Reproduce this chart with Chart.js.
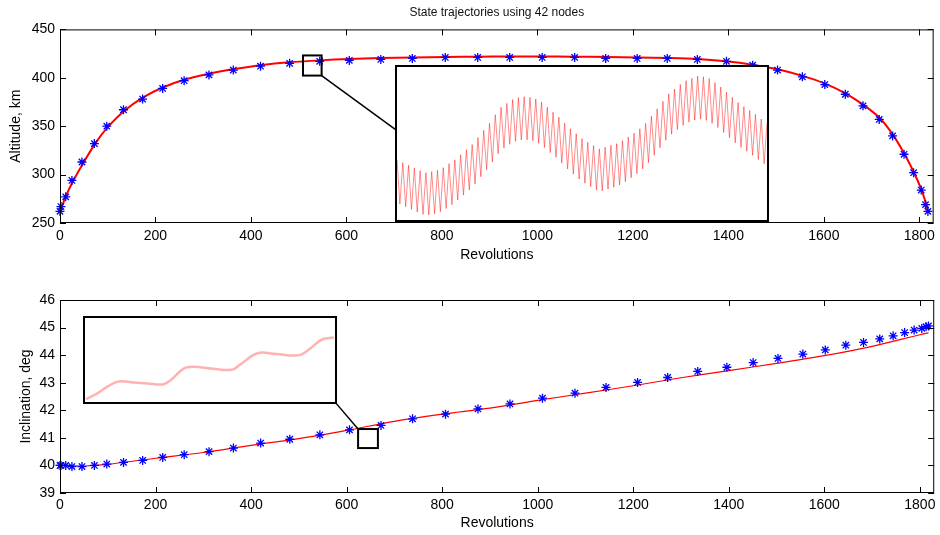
<!DOCTYPE html>
<html>
<head>
<meta charset="utf-8">
<script src="https://cdn.jsdelivr.net/npm/chart.js@4.4.1/dist/chart.umd.min.js"></script>
<style>
    body { margin: 0; background: #fff; }
    #wrap { position: relative; width: 940px; height: 535px; }
    #altChart { position: absolute; left: 0; top: 0; }
    #incChart { position: absolute; left: 0; top: 270px; }
    .inset { position: absolute; box-sizing: border-box; border: 2px solid #000; background: #fff; }
    .inset canvas { display: block; }
</style>
</head>
<body>
<div id="wrap">
    <canvas id="altChart" width="940" height="270" style="width:940px;height:270px"></canvas>
    <canvas id="incChart" width="940" height="265" style="width:940px;height:265px"></canvas>
    <div class="inset" id="altInset"><canvas></canvas></div>
    <div class="inset" id="incInset"><canvas></canvas></div>
</div>
<script>

// node positions (revolutions) of the 42 collocation nodes
const nodeRevs = [0, 2, 12, 25, 46, 72, 98, 133, 173, 215, 260, 312, 363, 420, 481, 544, 606, 672, 738, 807,
    875, 942, 1010, 1078, 1143, 1209, 1272, 1335, 1396, 1451, 1503, 1555, 1602, 1645, 1682, 1716, 1744, 1768, 1788, 1804,
    1813, 1818];

const nodeAltitude = [262, 267, 277, 294, 313, 332, 350, 367, 378, 389, 397, 403, 408, 412, 415, 417, 418, 419, 420, 421,
    421, 421, 421, 421, 420, 420, 420, 419, 417, 413, 408, 401, 393, 383, 371, 357, 340, 321, 302, 284,
    269, 262];

const nodeInclination = [40.0, 40.0, 40.0, 39.96, 39.96, 40.0, 40.05, 40.11, 40.18, 40.29, 40.39, 40.5, 40.63, 40.81, 40.95, 41.11, 41.29, 41.45, 41.69, 41.86,
    42.05, 42.23, 42.44, 42.62, 42.83, 43.01, 43.19, 43.41, 43.56, 43.73, 43.88, 44.04, 44.19, 44.36, 44.46, 44.59, 44.7, 44.82, 44.91, 44.97,
    45.03, 45.06];

// propagated trajectories
const altLineRevs = [0, 10, 25, 50, 75, 100, 135, 175, 215, 260, 310, 365, 420, 480, 545, 605, 670, 740, 810, 875,
    940, 1010, 1075, 1145, 1210, 1275, 1335, 1395, 1450, 1505, 1555, 1600, 1645, 1683, 1718, 1745, 1768, 1788, 1804, 1814, 1818];
const altLine = [262, 275, 291, 313, 333, 349, 366, 380, 390, 398, 404, 409, 413, 416, 418, 419.5, 420.5, 421, 421.5, 421.8,
    422, 422, 421.8, 421.5, 421, 420.5, 419.5, 417, 413.5, 408.5, 402, 394.5, 384, 372, 358, 341, 322, 303, 285, 270, 262];

const incLineRevs = [0, 50, 100, 200, 300, 400, 500, 600, 700, 800, 900, 1000, 1100, 1200, 1300, 1400, 1500, 1600, 1700, 1800, 1818];
const incLine = [40.0, 39.98, 40.04, 40.26, 40.47, 40.73, 40.97, 41.27, 41.6, 41.86, 42.08, 42.36, 42.62, 42.89, 43.18, 43.44, 43.70, 43.98, 44.32, 44.74, 44.81];

// zoomed detail of altitude (relative units, 0-100 of inset height): crests and troughs
const altZoomCrests = [39.3, 37.5, 35.8, 34.0, 32.3, 30.9, 31.6, 32.5, 34.2, 36.8, 39.3, 42.6, 46.0, 49.3, 53.9, 58.6,
    63.2, 68.8, 73.7, 76.2, 78.7, 80.0, 80.6, 80.2, 79.1, 77.1, 73.7, 70.5, 67.2, 63.2, 59.6, 56.4,
    53.2, 50.8, 48.7, 46.5, 47.6, 48.8, 49.9, 51.8, 54.3, 56.8, 59.7, 63.1, 67.8, 72.7, 77.6, 82.5,
    85.6, 88.6, 91.1, 92.6, 94.1, 93.6, 92.5, 89.8, 86.9, 83.5, 80.1, 76.8, 74.1, 71.6, 69.0, 66.0, 63.5];
const altZoomTroughs = [10.4, 8.7, 6.9, 5.2, 3.6, 3.3, 4.1, 5.4, 7.5, 10.1, 13.0, 16.3, 19.7, 23.6, 28.3, 32.9,
    38.0, 43.3, 47.0, 49.5, 51.4, 52.3, 52.4, 51.7, 50.1, 47.4, 44.1, 40.9, 37.2, 33.4, 30.0, 26.8,
    24.0, 21.8, 19.6, 19.1, 20.2, 21.4, 22.9, 25.1, 27.6, 30.3, 33.4, 37.5, 42.3, 47.2, 52.1, 56.1,
    59.1, 61.9, 63.9, 65.4, 65.9, 65.1, 63.2, 60.4, 57.2, 53.8, 50.5, 47.5, 44.9, 42.3, 39.5, 36.8];

// zoomed detail of inclination (relative units)
const incZoomX = [0.4, 4.4, 9.1, 13.5, 19.4, 25, 31, 34.1, 39.3, 43.3, 51.2, 58.7, 61.9, 69, 76.6, 85.7, 89.7, 94.8, 99.6];
const incZoomY = [3.5, 9.3, 18.6, 24.4, 23.3, 22.1, 20.9, 25.6, 39.5, 41.9, 39.5, 38.4, 44.2, 58.1, 57.0, 55.8, 62.8, 74.4, 76.7];

// ticks
const revTicks = [0, 200, 400, 600, 800, 1000, 1200, 1400, 1600, 1800];
const altTicks = [250, 300, 350, 400, 450];
const incTicks = [39, 40, 41, 42, 43, 44, 45, 46];


Chart.defaults.font.family = '"Liberation Sans", Arial, sans-serif';
Chart.defaults.color = "#000";


function xy(xs, ys) {
    return xs.map((x, i) => ({ x: x, y: ys[i] }));
}


// MATLAB-like box with inward ticks on all sides
const framePlugin = {

    id: "frame",

    afterDatasetsDraw(chart) {

        const { ctx, chartArea: a, scales } = chart;

        ctx.save();
        ctx.strokeStyle = "#000";
        ctx.lineWidth = 1;
        ctx.strokeRect(a.left + 0.5, a.top + 0.5, a.width - 1, a.height - 1);

        ctx.beginPath();

        scales.x.ticks.forEach(t => {
            const px = Math.round(scales.x.getPixelForValue(t.value)) + 0.5;
            ctx.moveTo(px, a.bottom);
            ctx.lineTo(px, a.bottom - 6);
            ctx.moveTo(px, a.top);
            ctx.lineTo(px, a.top + 6);
        });

        scales.y.ticks.forEach(t => {
            const py = Math.round(scales.y.getPixelForValue(t.value)) + 0.5;
            ctx.moveTo(a.left, py);
            ctx.lineTo(a.left + 6, py);
            ctx.moveTo(a.right, py);
            ctx.lineTo(a.right - 6, py);
        });

        ctx.stroke();
        ctx.restore();

    }

};


// small zoom rectangle and the link to the inset
const zoomMarks = {

    id: "zoomMarks",

    afterDraw(chart, args, opts) {

        if (!opts.box) return;

        const x = chart.scales.x, y = chart.scales.y, ctx = chart.ctx;

        const l = x.getPixelForValue(opts.box[0]);
        const r = x.getPixelForValue(opts.box[1]);
        const b = y.getPixelForValue(opts.box[2]);
        const t = y.getPixelForValue(opts.box[3]);

        ctx.save();
        ctx.strokeStyle = "#000";
        ctx.lineWidth = 2;
        ctx.strokeRect(l, t, r - l, b - t);

        ctx.lineWidth = 1.5;
        ctx.beginPath();
        ctx.moveTo(x.getPixelForValue(opts.link[0]), y.getPixelForValue(opts.link[1]));
        ctx.lineTo(x.getPixelForValue(opts.link[2]), y.getPixelForValue(opts.link[3]));
        ctx.stroke();
        ctx.restore();

    }

};


function mainChart(canvas, cfg) {

    return new Chart(canvas, {

        type: "scatter",

        data: {
            datasets: [
                {
                    label: "trajectory",
                    data: xy(cfg.lineX, cfg.lineY),
                    showLine: true,
                    borderColor: "#ff0000",
                    borderWidth: cfg.lineWidth,
                    pointRadius: 0,
                    tension: 0.3,
                    order: 2
                },
                {
                    label: "nodes",
                    data: xy(nodeRevs, cfg.nodes),
                    pointStyle: "star",
                    pointRadius: 4.5,
                    borderColor: "#0000ff",
                    backgroundColor: "#0000ff",
                    borderWidth: 1.3,
                    clip: false,
                    order: 1
                }
            ]
        },

        options: {

            responsive: false,
            animation: false,

            layout: {
                padding: { left: 0, right: 5, top: cfg.padTop, bottom: 0 }
            },

            plugins: {
                legend: { display: false },
                tooltip: { enabled: false },
                title: {
                    display: !!cfg.title,
                    text: cfg.title,
                    fullSize: false,
                    font: { size: 12, weight: "normal" },
                    color: "#111",
                    padding: { top: 5, bottom: 10 }
                },
                zoomMarks: cfg.marks
            },

            scales: {

                x: {
                    type: "linear",
                    min: 0,
                    max: 1830,
                    afterBuildTicks: s => { s.ticks = revTicks.map(v => ({ value: v })); },
                    afterFit: s => { s.height = cfg.xHeight; },
                    grid: { display: false, drawTicks: false },
                    border: { display: false },
                    ticks: {
                        font: { size: 14 },
                        padding: cfg.xTickPad,
                        maxRotation: 0,
                        autoSkip: false,
                        callback: v => String(v)
                    },
                    title: {
                        display: true,
                        text: "Revolutions",
                        font: { size: 14 },
                        padding: { top: 0, bottom: cfg.xTitlePad }
                    }
                },

                y: {
                    type: "linear",
                    min: cfg.yTicks[0],
                    max: cfg.yTicks[cfg.yTicks.length - 1],
                    afterBuildTicks: s => { s.ticks = cfg.yTicks.map(v => ({ value: v })); },
                    afterFit: s => { s.width = 60; },
                    grid: { display: false, drawTicks: false },
                    border: { display: false },
                    ticks: { font: { size: 14 }, padding: 5, callback: v => String(v) },
                    title: {
                        display: true,
                        text: cfg.yTitle,
                        font: { size: 14 },
                        padding: { top: cfg.yTitlePad, bottom: 0 }
                    }
                }

            }

        },

        plugins: [framePlugin, zoomMarks]

    });

}


function insetChart(chart, canvasTop, frame, el, datasets, xMax) {

    const x = chart.scales.x, y = chart.scales.y;

    const l = Math.round(x.getPixelForValue(frame[0]));
    const r = Math.round(x.getPixelForValue(frame[1]));
    const t = Math.round(y.getPixelForValue(frame[3]));
    const b = Math.round(y.getPixelForValue(frame[2]));

    el.style.left = (l - 1) + "px";
    el.style.top = (canvasTop + t - 1) + "px";
    el.style.width = (r - l + 2) + "px";
    el.style.height = (b - t + 2) + "px";

    const canvas = el.querySelector("canvas");
    canvas.width = r - l - 2;
    canvas.height = b - t - 2;
    canvas.style.width = canvas.width + "px";
    canvas.style.height = canvas.height + "px";

    new Chart(canvas, {
        type: "scatter",
        data: { datasets },
        options: {
            responsive: false,
            animation: false,
            layout: { padding: 0 },
            plugins: { legend: { display: false }, tooltip: { enabled: false } },
            scales: {
                x: { type: "linear", display: false, min: 0, max: xMax },
                y: { type: "linear", display: false, min: 0, max: 100 }
            }
        }
    });

}


const altChart = mainChart(document.getElementById("altChart"), {
    lineX: altLineRevs,
    lineY: altLine,
    lineWidth: 2,
    nodes: nodeAltitude,
    yTicks: altTicks,
    yTitle: "Altitude, km",
    yTitlePad: 7.6,
    xTitlePad: 6.6,
    xTickPad: 5,
    xHeight: 47,
    padTop: 0,
    title: "State trajectories using 42 nodes",
    marks: { box: [509, 548, 402.3, 423.1], link: [548, 402.3, 703, 346.4] }
});

const incChart = mainChart(document.getElementById("incChart"), {
    lineX: incLineRevs,
    lineY: incLine,
    lineWidth: 1.2,
    nodes: nodeInclination,
    yTicks: incTicks,
    yTitle: "Inclination, deg",
    yTitlePad: 17.6,
    xTitlePad: 3.6,
    xTickPad: 4,
    xHeight: 42,
    padTop: 30,
    title: "",
    marks: { box: [624, 665.5, 40.63, 41.32], link: [577.6, 42.26, 624, 41.32] }
});


// interleave crests and troughs of the zoomed altitude ripple
const altZoomData = [];
altZoomCrests.forEach((c, i) => {
    altZoomData.push({ x: 2 * i, y: c });
    if (i < altZoomTroughs.length) altZoomData.push({ x: 2 * i + 1, y: altZoomTroughs[i] });
});

insetChart(altChart, 0, [703, 1482, 252, 411.7], document.getElementById("altInset"), [
    {
        data: altZoomData,
        showLine: true,
        borderColor: "rgba(255,0,0,0.45)",
        borderWidth: 1,
        pointRadius: 0
    }
], 128);

insetChart(incChart, 270, [50, 578, 42.26, 45.38], document.getElementById("incInset"), [
    {
        data: xy(incZoomX, incZoomY),
        showLine: true,
        borderColor: "rgba(255,0,0,0.3)",
        borderWidth: 2.5,
        pointRadius: 0,
        tension: 0.4
    }
], 100);

</script>
</body>
</html>
